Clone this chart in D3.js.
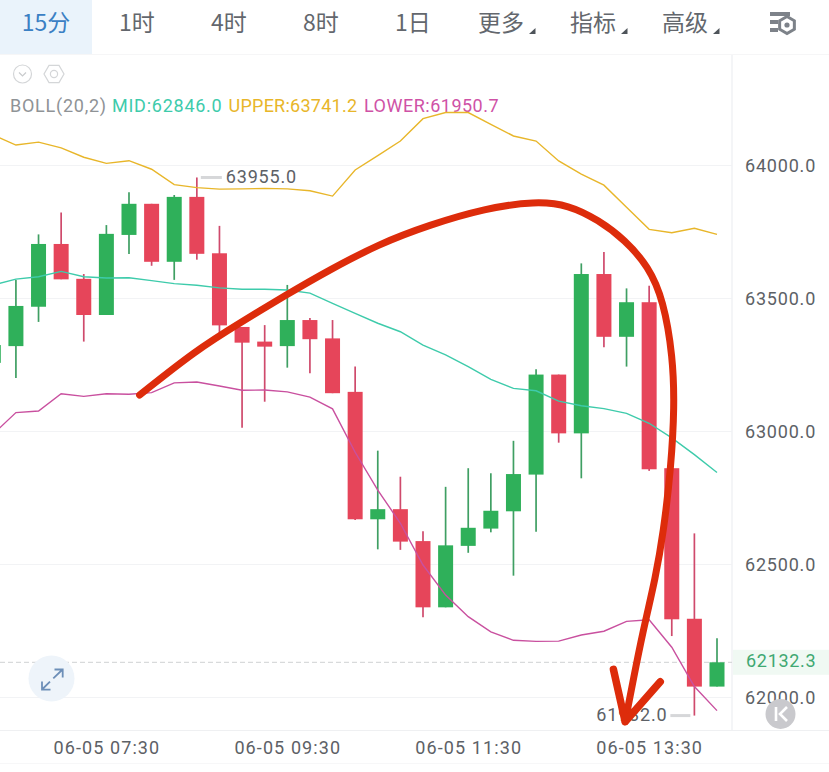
<!DOCTYPE html>
<html><head><meta charset="utf-8">
<script src="https://cdn.jsdelivr.net/npm/d3@7"></script>
<style>
html,body{margin:0;padding:0;background:#fff;overflow:hidden}
text{font-family:Roboto,sans-serif}
.cjk{font-family:"Noto Sans CJK SC",sans-serif;font-weight:400}
</style></head><body><svg id="c" width="829" height="772"></svg>
<script>
// ---- data (prices; 15 minute candles, first one at 06:15) ----
const opens  = [63258,63321,63469,63705,63574,63438,63739,63856,63638,63882,63670,63393,63338,63321,63419,63350,63149,62670,62708,62588,62339,62570,62635,62700,62838,63214,62993,63592,63356,63486,62862,62296,62041];
const closes = [63325,63472,63705,63572,63438,63743,63856,63638,63882,63668,63399,63334,63319,63419,63347,63144,62670,62708,62586,62339,62572,62638,62702,62840,63214,62993,63592,63356,63486,62858,62294,62041,62132.3];
const highs  = [63344,63570,63741,63823,63592,63776,63899,63856,63889,63955,63773,63393,63400,63551,63427,63419,63244,62928,62830,62625,62792,62862,62843,62965,63234,63214,63632,63675,63538,63548,62862,62617,62223];
const lows   = [63194,63201,63412,63572,63338,63438,63667,63623,63570,63646,63368,63014,63112,63240,63219,63144,62667,62557,62555,62302,62339,62544,62621,62458,62623,62958,62824,63317,63244,62852,62231,61932,62041];
const upper  = [64115,64077,64088,64066,64031,64008,64018,63986,63928,63917,63911,63912,63914,63912,63905,63885,63983,64037,64092,64176,64199,64199,64155,64111,64092,64017,63968,63926,63843,63760,63747,63764,63741.2];
const mid    = [63551,63573,63582,63602,63582,63577,63578,63567,63556,63550,63540,63535,63535,63532,63520,63482,63444,63407,63375,63325,63288,63244,63196,63162,63153,63114,63097,63086,63068,63031,62976,62913,62846];
const lower  = [62991,63071,63077,63142,63132,63142,63140,63146,63183,63186,63171,63155,63156,63149,63129,63085,62922,62780,62655,62498,62385,62304,62247,62215,62211,62212,62235,62249,62286,62292,62189,62041,61950.7];
const priceTicks = [62000,62500,63000,63500,64000];
const timeTickIdx = [5,13,21,29];
const timeTickLabels = ["06-05 07:30","06-05 09:30","06-05 11:30","06-05 13:30"];
const tabs = ["15分","1时","4时","8时","1日","更多","指标","高级"];
const lastPrice = 62132.3, maxPrice = 63955, minPrice = 61932;
// hand-drawn red annotation, as [candle index, price]
const sketchCurve = [[6.47,63137],[8.97,63306],[10.88,63407],[12.94,63513],[14.85,63607],[17.06,63705],[19.26,63776],[21.76,63839],[23.97,63866],[25.44,63852],[26.76,63795],[27.94,63720],[28.97,63620],[29.63,63494],[30.05,63281],[30.12,63093],[29.97,62868],[29.63,62618],[29.26,62442],[28.84,62291],[28.44,62130],[27.94,61909]];
const sketchHead = [[27.42,62106],[27.94,61909],[29.49,62059]];

const svg = d3.select("#c");
const x = d3.scaleLinear().domain([0,32]).range([-6.7,717]);
const y = d3.scaleLinear().domain([62000,64000]).range([697.5,165.5]);
const candles = opens.map((o,i)=>({i,o,c:closes[i],h:highs[i],l:lows[i]}));
const GREEN="#2fb05a",RED="#e6455a",AXIS=732;

// header
svg.append("rect").attr("x",0).attr("y",0).attr("width",92).attr("height",54).attr("fill","#eaf3fb");
const tabCx=[46,137,229,321,413,501,593,685];
svg.selectAll(".tab").data(tabs).join("text").attr("class","cjk tab")
  .attr("x",(d,i)=>tabCx[i]).attr("y",31).attr("text-anchor","middle").attr("font-size",23)
  .attr("fill",(d,i)=>i==0?"#3a80c4":"#63676d").text(d=>d);
svg.selectAll(".tri").data([5,6,7]).join("path").attr("fill","#4e545a")
  .attr("d",i=>{const r=tabCx[i]+34.5;return `M${r},28 L${r},34 L${r-6.5},34 Z`;});
// settings icon
const g=svg.append("g").attr("fill","#7d8289");
g.append("rect").attr("x",770).attr("y",12).attr("width",20).attr("height",4);
g.append("rect").attr("x",770).attr("y",20).attr("width",8).attr("height",4);
g.append("rect").attr("x",770).attr("y",28).attr("width",8).attr("height",4);
const hex=(cx,cy,r)=>d3.range(6).map(k=>{const a=Math.PI/3*k+Math.PI/6;return [cx+r*Math.cos(a),cy+r*Math.sin(a)];});
svg.append("polygon").attr("points",hex(787,25,8.5).join(" ")).attr("fill","none").attr("stroke","#7d8289").attr("stroke-width",3);
svg.append("circle").attr("cx",787).attr("cy",25).attr("r",2.6).attr("fill","#7d8289");
svg.append("line").attr("x1",0).attr("x2",829).attr("y1",54.5).attr("y2",54.5).attr("stroke","#f6f6f7");

// small indicator icons
svg.append("circle").attr("cx",22.5).attr("cy",74).attr("r",9).attr("fill","none").attr("stroke","#d4d6d8").attr("stroke-width",1.2);
svg.append("path").attr("d","M19,72.5 L22.5,76 L26,72.5").attr("fill","none").attr("stroke","#c9cbcd").attr("stroke-width",1.2);
svg.append("polygon").attr("points",hex(54,74,10).map(p=>[54+(p[1]-74),74+(p[0]-54)]).join(" ")).attr("fill","none").attr("stroke","#d4d6d8").attr("stroke-width",1.2);
svg.append("circle").attr("cx",54).attr("cy",74).attr("r",3.6).attr("fill","none").attr("stroke","#d4d6d8").attr("stroke-width",1.2);

// legend
const legend=[["BOLL(20,2)",10,"#8f9396",0.75],["MID:62846.0",112,"#3ecbab",0.75],["UPPER:63741.2",228.5,"#e8b62a",0.25],["LOWER:61950.7",364,"#cf52a6",0.5]];
svg.selectAll(".lg").data(legend).join("text").attr("class","lg").attr("x",d=>d[1]).attr("y",112)
  .attr("font-size",18).attr("fill",d=>d[2]).style("letter-spacing",d=>d[3]+"px").text(d=>d[0]);

// grid + frame
svg.append("g").selectAll("line").data(priceTicks).join("line")
  .attr("x1",0).attr("x2",AXIS).attr("y1",d=>y(d)).attr("y2",d=>y(d)).attr("stroke","#f2f3f5");
svg.append("line").attr("x1",AXIS).attr("x2",AXIS).attr("y1",55).attr("y2",730).attr("stroke","#f1f2f4").attr("stroke-width",1.5);
svg.append("line").attr("x1",0).attr("x2",829).attr("y1",730.5).attr("y2",730.5).attr("stroke","#eff0f2");
svg.append("line").attr("x1",0).attr("x2",829).attr("y1",763.5).attr("y2",763.5).attr("stroke","#f7f7f8");

// axes
const yAxis=d3.axisRight(y).tickValues(priceTicks).tickFormat(d3.format(".1f")).tickSize(0).tickPadding(0);
const ya=svg.append("g").attr("transform","translate(745,0)").call(yAxis);
ya.select(".domain").remove();
ya.selectAll("text").attr("font-size",18).attr("fill","#5d6166").style("letter-spacing","0.8px").style("font-family","Roboto");
const xAxis=d3.axisBottom(x).tickValues(timeTickIdx).tickFormat((d,i)=>timeTickLabels[i]).tickSize(0).tickPadding(0);
const xa=svg.append("g").attr("transform","translate(0,741)").call(xAxis);
xa.select(".domain").remove();
xa.selectAll("text").attr("font-size",18).attr("fill","#5d6166").style("letter-spacing","1.1px").style("font-family","Roboto");

// last price line
svg.append("line").attr("x1",0).attr("x2",AXIS).attr("y1",y(lastPrice)).attr("y2",y(lastPrice))
  .attr("stroke","#cfd1d3").attr("stroke-dasharray","5 3");

// expand button
svg.append("circle").attr("cx",51.5).attr("cy",678.5).attr("r",23).attr("fill","#eef4fa");
svg.append("path").attr("fill","none").attr("stroke","#6d8fb8").attr("stroke-width",1.8)
  .attr("d","M42.5,689 L50,681.7 M53.3,678.3 L62,670 M54.5,669.5 L62.7,669.5 L62.7,677.5 M42,681.5 L42,689.7 L50.5,689.7");

// wicks and bodies
const col=d=>d.c>=d.o?GREEN:RED;
svg.append("g").selectAll("line").data(candles).join("line")
  .attr("x1",d=>x(d.i)).attr("x2",d=>x(d.i)).attr("y1",d=>y(d.h)).attr("y2",d=>y(d.l))
  .attr("stroke",d=>d.c>=d.o?"#3f9f63":"#cf4a6c").attr("stroke-width",1.7);
svg.append("g").selectAll("rect").data(candles).join("rect")
  .attr("x",d=>x(d.i)-7.5).attr("width",15)
  .attr("y",d=>y(Math.max(d.o,d.c))).attr("height",d=>Math.max(1,Math.abs(y(d.o)-y(d.c))))
  .attr("fill",col);

// bollinger lines
const ln=d3.line().x((d,i)=>x(i)).y(d=>y(d));
[[upper,"#e8b62a"],[mid,"#3ecbab"],[lower,"#c9509f"]].forEach(([s,c])=>
  svg.append("path").attr("d",ln(s)).attr("fill","none").attr("stroke",c).attr("stroke-width",1.4));

// max / min markers
const markTxt=(tx,ty,anchor,t)=>svg.append("text").attr("x",tx).attr("y",ty+1).attr("text-anchor",anchor)
  .attr("font-size",18).attr("fill","#5d6166").style("letter-spacing","0.8px").attr("dominant-baseline","middle").text(t);
svg.append("line").attr("x1",x(9)+4).attr("x2",x(9)+25).attr("y1",y(maxPrice)).attr("y2",y(maxPrice)).attr("stroke","#d6d7d9").attr("stroke-width",3);
markTxt(x(9)+29,y(maxPrice),"start",d3.format(".1f")(maxPrice));
svg.append("line").attr("x1",x(31)-24).attr("x2",x(31)-4).attr("y1",y(minPrice)).attr("y2",y(minPrice)).attr("stroke","#d6d7d9").attr("stroke-width",3);
markTxt(x(31)-27,y(minPrice),"end",d3.format(".1f")(minPrice));

// last price tag
svg.append("rect").attr("x",AXIS+1).attr("y",y(lastPrice)-12.5).attr("width",829-AXIS).attr("height",25).attr("fill","#f0f9f3");
svg.append("text").attr("x",746).attr("y",y(lastPrice)).attr("dominant-baseline","middle")
  .attr("font-size",18).attr("fill","#3fa872").style("letter-spacing","0.7px").text(d3.format(".1f")(lastPrice));

// K button
svg.append("circle").attr("cx",780.5).attr("cy",714).attr("r",15).attr("fill","#c9c9cd");
svg.append("path").attr("fill","none").attr("stroke","#fff").attr("stroke-width",2.6)
  .attr("d","M776,707 L776,721 M787,707 L780,714 L787,721");

// red annotation
const sk=d3.line().x(d=>x(d[0])).y(d=>y(d[1]));
svg.append("path").attr("d",sk.curve(d3.curveBasis)(sketchCurve))
  .attr("fill","none").attr("stroke","#dd2c0b").attr("stroke-width",7).attr("stroke-linecap","round");
svg.append("path").attr("d",d3.line().x(d=>x(d[0])).y(d=>y(d[1]))(sketchHead))
  .attr("fill","none").attr("stroke","#dd2c0b").attr("stroke-width",7.5).attr("stroke-linecap","round").attr("stroke-linejoin","round");
</script></body></html>
